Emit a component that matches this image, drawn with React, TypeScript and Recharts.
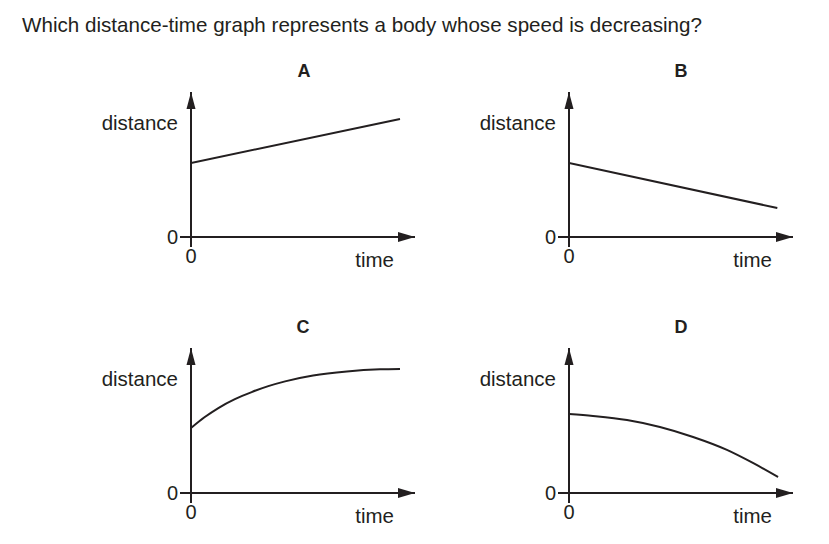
import { ComposedChart, Line, XAxis, YAxis, ReferenceDot } from 'recharts';

const question = 'Which distance-time graph represents a body whose speed is decreasing?';
const panelLetters = ['A', 'B', 'C', 'D'];
const axisTicks = [0];
const xLabel = 'time';
const yLabel = 'distance';

// time / distance readings for each sketch (axis runs 0..10)
const timeA = [0, 9.33];
const distA = [5.1, 8.14];
const timeB = [0, 9.3];
const distB = [5.1, 2.0];
const timeC = [0, 0.6, 1.22, 1.96, 2.71, 3.45, 4.2, 5.45, 6.96, 8.44, 9.33];
const distC = [4.48, 5.22, 5.86, 6.47, 6.96, 7.37, 7.7, 8.1, 8.38, 8.53, 8.56];
const timeD = [0, 1.07, 2.59, 4.06, 5.54, 7.05, 8.21, 9.33];
const distD = [5.45, 5.31, 5.03, 4.55, 3.86, 2.97, 2.07, 1.1];

const INK = '#231f20';
const FONT = '"Liberation Sans", Arial, Helvetica, sans-serif';

const panels = [
  { letter: panelLetters[0], time: timeA, dist: distA, curve: 'linear', left: 90, top: 60, letterX: 304 },
  { letter: panelLetters[1], time: timeB, dist: distB, curve: 'linear', left: 468, top: 60, letterX: 681 },
  { letter: panelLetters[2], time: timeC, dist: distC, curve: 'monotone', left: 90, top: 316, letterX: 303 },
  { letter: panelLetters[3], time: timeD, dist: distD, curve: 'monotone', left: 468, top: 316, letterX: 681 },
];

const ArrowRight = (props: any) => {
  const { cx, cy } = props;
  return <polygon points={`${cx},${cy} ${cx - 17},${cy - 5} ${cx - 17},${cy + 5}`} fill={INK} />;
};

const ArrowUp = (props: any) => {
  const { cx, cy } = props;
  return <polygon points={`${cx},${cy} ${cx - 4.5},${cy + 17} ${cx + 4.5},${cy + 17}`} fill={INK} />;
};

function Panel({ p }: { p: (typeof panels)[number] }) {
  const data = p.time.map((t, i) => ({ t, d: p.dist[i] }));
  const tickStyle = { fontSize: 20, fill: INK, fontFamily: FONT };

  return (
    <div style={{ position: 'absolute', left: p.left, top: p.top }}>
      <ComposedChart width={340} height={220} data={data} margin={{ top: 32, right: 15, bottom: 13, left: 41 }}>
        <XAxis
          dataKey="t"
          type="number"
          domain={[0, 10]}
          ticks={axisTicks}
          allowDataOverflow
          tickSize={10}
          tickMargin={2}
          axisLine={{ stroke: INK, strokeWidth: 2 }}
          tickLine={{ stroke: INK, strokeWidth: 2 }}
          tick={tickStyle}
          label={{
            content: ({ viewBox }: any) => (
              <text
                x={viewBox.x + viewBox.width - 21}
                y={viewBox.y + 22}
                textAnchor="end"
                dominantBaseline="central"
                fontSize={20.5}
                fontFamily={FONT}
                fill={INK}
              >
                {xLabel}
              </text>
            ),
          }}
        />
        <YAxis
          type="number"
          domain={[0, 10]}
          ticks={axisTicks}
          allowDataOverflow
          tickSize={11}
          tickMargin={2}
          axisLine={{ stroke: INK, strokeWidth: 2 }}
          tickLine={{ stroke: INK, strokeWidth: 2 }}
          tick={tickStyle}
          label={{
            content: ({ viewBox }: any) => (
              <text
                x={viewBox.x + viewBox.width - 13}
                y={viewBox.y + 30}
                textAnchor="end"
                dominantBaseline="central"
                fontSize={20.5}
                fontFamily={FONT}
                fill={INK}
              >
                {yLabel}
              </text>
            ),
          }}
        />
        <Line
          type={p.curve as any}
          dataKey="d"
          stroke={INK}
          strokeWidth={2}
          dot={false}
          activeDot={false}
          isAnimationActive={false}
        />
        <ReferenceDot x={10} y={0} r={0} shape={ArrowRight} ifOverflow="visible" />
        <ReferenceDot x={0} y={10} r={0} shape={ArrowUp} ifOverflow="visible" />
      </ComposedChart>
      <div
        style={{
          position: 'absolute',
          left: p.letterX - p.left - 20,
          top: 2,
          width: 40,
          textAlign: 'center',
          fontFamily: FONT,
          fontWeight: 'bold',
          fontSize: 18,
          lineHeight: '18px',
          color: INK,
        }}
      >
        {p.letter}
      </div>
    </div>
  );
}

export default function App() {
  return (
    <div style={{ position: 'absolute', left: 0, top: 0, width: 829, height: 544, background: '#fff' }}>
      <div
        style={{
          position: 'absolute',
          left: 22,
          top: 14,
          fontFamily: FONT,
          fontSize: 20.6,
          lineHeight: '21px',
          color: INK,
          whiteSpace: 'nowrap',
        }}
      >
        {question}
      </div>
      {panels.map((p) => (
        <Panel key={p.letter} p={p} />
      ))}
    </div>
  );
}
